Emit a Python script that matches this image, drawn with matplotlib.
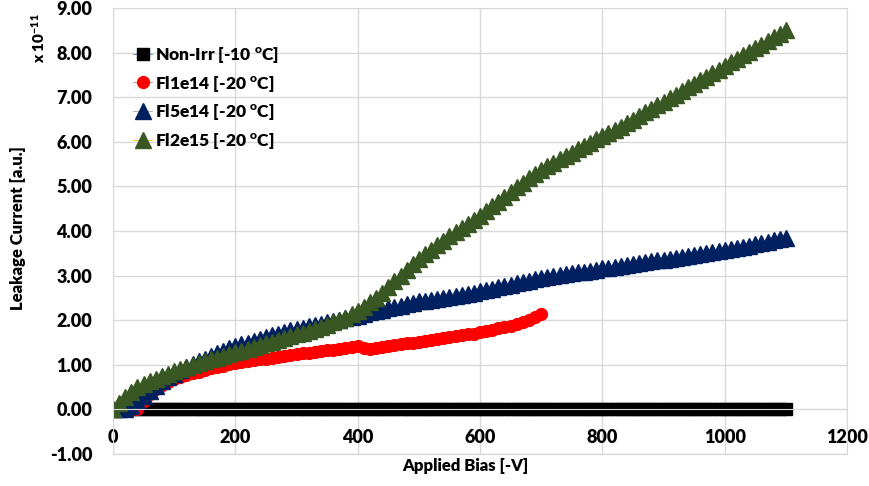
import matplotlib.pyplot as plt

plt.rcParams['font.family'] = ['Lato', 'DejaVu Sans']
plt.rcParams['font.weight'] = 'heavy'
plt.rcParams['mathtext.fontset'] = 'custom'
plt.rcParams['mathtext.rm'] = 'Lato:heavy'
plt.rcParams['mathtext.bf'] = 'Lato:heavy'
plt.rcParams['mathtext.default'] = 'bf'

# bias steps [-V]
biasLong = list(range(0, 1101, 10))
biasRed = list(range(0, 701, 10))

# leakage current in units of 1e-11
nonIrr = [0.0] * len(biasLong)

fl1e14 = [0.00, 0.00, 0.00, 0.00, 0.02, 0.20, 0.34, 0.46, 0.55, 0.62,
          0.68, 0.73, 0.77, 0.81, 0.85, 0.88, 0.92, 0.95, 0.98, 1.01,
          1.04, 1.06, 1.08, 1.10, 1.12, 1.14, 1.16, 1.18, 1.20, 1.22,
          1.24, 1.26, 1.27, 1.29, 1.31, 1.33, 1.34, 1.36, 1.38, 1.40,
          1.42, 1.38, 1.36, 1.38, 1.40, 1.42, 1.44, 1.46, 1.48, 1.50,
          1.52, 1.54, 1.56, 1.58, 1.60, 1.62, 1.64, 1.66, 1.68, 1.70,
          1.73, 1.76, 1.79, 1.82, 1.85, 1.88, 1.92, 1.96, 2.01, 2.07,
          2.14]

fl5e14 = [0.00, 0.00, 0.02, 0.08, 0.18, 0.30, 0.42, 0.53, 0.63, 0.72,
          0.80, 0.88, 0.95, 1.02, 1.08, 1.14, 1.20, 1.26, 1.32, 1.37,
          1.42, 1.46, 1.50, 1.54, 1.58, 1.62, 1.66, 1.70, 1.74, 1.77,
          1.80, 1.83, 1.86, 1.89, 1.92, 1.95, 1.98, 2.01, 2.04, 2.07,
          2.10, 2.14, 2.18, 2.21, 2.24, 2.27, 2.30, 2.33, 2.36, 2.39,
          2.42, 2.44, 2.46, 2.48, 2.50, 2.52, 2.54, 2.56, 2.59, 2.62,
          2.65, 2.68, 2.71, 2.74, 2.77, 2.80, 2.83, 2.86, 2.89, 2.92,
          2.95, 2.97, 2.99, 3.01, 3.03, 3.05, 3.07, 3.09, 3.11, 3.13,
          3.16, 3.18, 3.20, 3.22, 3.24, 3.26, 3.28, 3.30, 3.32, 3.34,
          3.36, 3.38, 3.40, 3.42, 3.45, 3.47, 3.49, 3.51, 3.53, 3.55,
          3.57, 3.59, 3.62, 3.64, 3.67, 3.70, 3.73, 3.76, 3.79, 3.82,
          3.85]

fl2e15 = [0.00, 0.15, 0.28, 0.40, 0.50, 0.57, 0.63, 0.69, 0.75, 0.80,
          0.86, 0.90, 0.95, 1.00, 1.04, 1.08, 1.12, 1.16, 1.20, 1.24,
          1.28, 1.32, 1.36, 1.40, 1.44, 1.48, 1.52, 1.56, 1.60, 1.64,
          1.68, 1.72, 1.76, 1.80, 1.85, 1.90, 1.95, 2.00, 2.06, 2.13,
          2.20, 2.30, 2.40, 2.50, 2.62, 2.74, 2.87, 3.00, 3.13, 3.26,
          3.38, 3.48, 3.58, 3.68, 3.78, 3.88, 3.97, 4.06, 4.15, 4.24,
          4.33, 4.44, 4.55, 4.66, 4.77, 4.88, 4.98, 5.08, 5.18, 5.28,
          5.37, 5.45, 5.53, 5.61, 5.68, 5.75, 5.83, 5.90, 5.98, 6.06,
          6.13, 6.20, 6.27, 6.34, 6.42, 6.50, 6.58, 6.66, 6.74, 6.82,
          6.90, 6.98, 7.06, 7.14, 7.22, 7.30, 7.38, 7.46, 7.54, 7.62,
          7.70, 7.78, 7.86, 7.94, 8.02, 8.10, 8.18, 8.26, 8.34, 8.42,
          8.50]

xTicks = [0, 200, 400, 600, 800, 1000, 1200]
yTicks = [-1, 0, 1, 2, 3, 4, 5, 6, 7, 8, 9]

fig = plt.figure(figsize=(8.7, 4.86), dpi=100)
ax = fig.add_axes([0.1299, 0.0658, 0.8437, 0.9177])

ax.plot(biasLong, nonIrr, color='#4472C4', lw=0.6, marker='s', ms=8,
        mfc='black', mec='black', label='Non-Irr [-10 $^{o}$C]')
ax.plot(biasRed, fl1e14, color='#ED7D31', lw=0.6, marker='o', ms=8.5,
        mfc='#FF0000', mec='#FF0000', label='Fl1e14 [-20 $^{o}$C]')
ax.plot(biasLong, fl5e14, color='#A5A5A5', lw=0.6, marker='^', ms=11,
        mfc='#002060', mec='#002060', label='Fl5e14 [-20 $^{o}$C]')
ax.plot(biasLong, fl2e15, color='#FFC000', lw=0.6, marker='^', ms=11,
        mfc='#385723', mec='#385723', label='Fl2e15 [-20 $^{o}$C]')

ax.set_xlim(0, 1200)
ax.set_ylim(-1, 9)
ax.set_xticks(xTicks)
ax.set_yticks(yTicks)
ax.set_yticklabels(['{:.2f}'.format(v) for v in yTicks])
ax.grid(True, color='#D9D9D9', lw=1)
ax.set_axisbelow(True)

# horizontal axis crosses at zero, like Excel
ax.spines['bottom'].set_position(('data', 0))
ax.spines['bottom'].set_color('#D9D9D9')
for s in ['left', 'right', 'top']:
    ax.spines[s].set_color('#D9D9D9')
ax.axhline(-1, color='#D9D9D9', lw=1, clip_on=False, zorder=0)
ax.tick_params(axis='x', length=0, pad=14, labelsize=13)
ax.tick_params(axis='y', length=0, pad=15, labelsize=13)

fig.text(0.535, 0.041, 'Applied Bias [-V]', fontsize=12, ha='center', va='center')
fig.text(0.021, 0.53, 'Leakage Current [a.u.]', fontsize=12, rotation=90,
         ha='center', va='center')
fig.text(0.044, 0.922, 'x 10$^{-11}$', fontsize=11, rotation=90,
         ha='center', va='center')

ax.legend(loc='upper left', bbox_to_anchor=(0.145, 0.922), bbox_transform=fig.transFigure,
          frameon=False, fontsize=12.5, handlelength=1.1, handletextpad=0.15,
          labelspacing=0.5, borderaxespad=0)

fig.savefig('out.png', dpi=100)
